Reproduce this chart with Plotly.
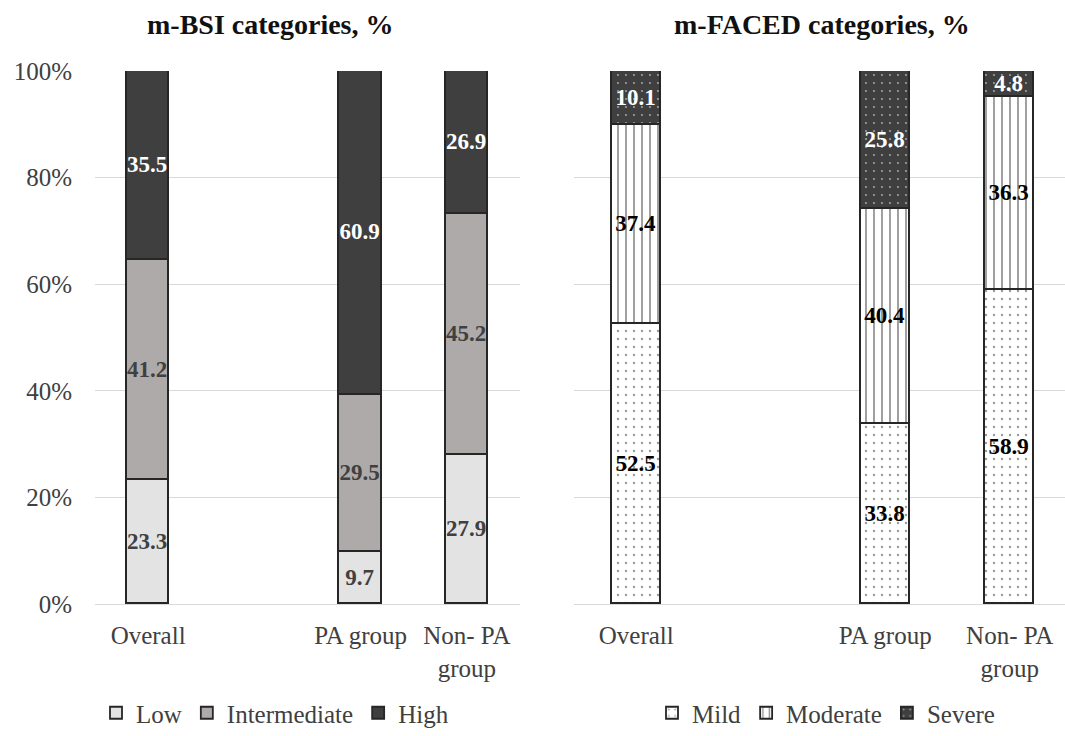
import plotly.graph_objects as go

# ---------------- data ----------------
groups = ["Overall", "PA group", "Non- PA<br>group"]
group_slots = [0, 2, 3]          # category slot (slot 1 is an empty gap)

bsi_low = [23.3, 9.7, 27.9]
bsi_intermediate = [41.2, 29.5, 45.2]
bsi_high = [35.5, 60.9, 26.9]

faced_mild = [52.5, 33.8, 58.9]
faced_moderate = [37.4, 40.4, 36.3]
faced_severe = [10.1, 25.8, 4.8]

y_tick_vals = [0, 20, 40, 60, 80, 100]
y_tick_labels = ["0%", "20%", "40%", "60%", "80%", "100%"]

titles = ["m-BSI categories, %", "m-FACED categories, %"]

# ---------------- styling ----------------
W, H = 1065, 736
FONT = "Liberation Serif, Times New Roman, serif"
EDGE = dict(color="#262626", width=1.8)
LABEL_SIZE = 23
TEXT_SIZE = 25


def bar(x, y, name, xa, ya, leg, color, txtcolor, width, pattern=None):
    marker = dict(color=color, line=EDGE)
    if pattern is not None:
        marker["pattern"] = pattern
    return go.Bar(
        x=x, y=y, name=name, xaxis=xa, yaxis=ya, legend=leg,
        width=width, marker=marker,
        text=y, texttemplate="%{text:.1f}",
        textposition="inside", insidetextanchor="middle",
        textangle=0, constraintext="none",
        textfont=dict(family=FONT, size=LABEL_SIZE, color=txtcolor, weight="bold"),
        hoverinfo="skip",
    )


fig = go.Figure()

# left chart: m-BSI
fig.add_trace(bar(group_slots, bsi_low, "Low", "x", "y", "legend", "#e3e3e3", "#404040", 0.40))
fig.add_trace(bar(group_slots, bsi_intermediate, "Intermediate", "x", "y", "legend", "#aeaaaa", "#404040", 0.40))
fig.add_trace(bar(group_slots, bsi_high, "High", "x", "y", "legend", "#3f3f3f", "#ffffff", 0.40))

# right chart: m-FACED
fig.add_trace(bar(group_slots, faced_mild, "Mild", "x2", "y2", "legend2", "#ffffff", "#000000", 0.39,
                  pattern=dict(shape=".", bgcolor="#ffffff", fgcolor="#303030", size=8, solidity=0.07)))
fig.add_trace(bar(group_slots, faced_moderate, "Moderate", "x2", "y2", "legend2", "#ffffff", "#000000", 0.39,
                  pattern=dict(shape="|", bgcolor="#ffffff", fgcolor="#111111", size=8, solidity=0.2)))
fig.add_trace(bar(group_slots, faced_severe, "Severe", "x2", "y2", "legend2", "#3f3f3f", "#ffffff", 0.39,
                  pattern=dict(shape=".", bgcolor="#3f3f3f", fgcolor="#ffffff", size=8, solidity=0.06)))

TOP, BOTTOM = 71, 607
plot_h = BOTTOM - TOP


def py(pix):
    return (BOTTOM - pix) / plot_h


tick_font = dict(family=FONT, size=TEXT_SIZE, color="#404040")

xcommon = dict(showgrid=False, zeroline=False, showline=True, linecolor="#d9d9d9", linewidth=1,
               ticks="", tickmode="array", tickvals=group_slots, ticktext=groups,
               tickfont=tick_font, ticklabelstandoff=9, automargin=False, fixedrange=True)
ycommon = dict(range=[0, 100], tickmode="array", tickvals=y_tick_vals, ticktext=y_tick_labels,
               showgrid=True, gridcolor="#d9d9d9", gridwidth=1, zeroline=False, showline=False,
               ticks="", tickfont=tick_font, automargin=False, fixedrange=True)

legend_common = dict(orientation="h", xanchor="center", y=py(717), yanchor="middle",
                     font=dict(family=FONT, size=TEXT_SIZE, color="#404040"), traceorder="normal",
                     itemclick=False, itemdoubleclick=False, bgcolor="rgba(0,0,0,0)")

fig.update_layout(
    width=W, height=H,
    margin=dict(l=0, r=0, t=TOP, b=H - BOTTOM),
    paper_bgcolor="#ffffff", plot_bgcolor="#ffffff",
    barmode="stack", bargap=0,
    font=dict(family=FONT, color="#404040"),
    xaxis=dict(domain=[95 / W, 520 / W], range=[-0.5, 3.5], anchor="y", **xcommon),
    xaxis2=dict(domain=[574 / W, 1.0], range=[-0.5, 3.444], anchor="y2", **xcommon),
    yaxis=dict(anchor="x", ticklabelstandoff=22, **ycommon),
    yaxis2=dict(anchor="x2", showticklabels=False, **ycommon),
    legend=dict(x=275 / W, **legend_common),
    legend2=dict(x=826 / W, **legend_common),
    annotations=[
        dict(text=titles[0], x=270 / W, y=py(24), xref="paper", yref="paper",
             xanchor="center", yanchor="middle", showarrow=False,
             font=dict(family=FONT, size=28, color="#111111", weight="bold")),
        dict(text=titles[1], x=822 / W, y=py(24), xref="paper", yref="paper",
             xanchor="center", yanchor="middle", showarrow=False,
             font=dict(family=FONT, size=28, color="#111111", weight="bold")),
    ],
    showlegend=True,
)

fig.write_html(
    "out.html",
    config={"displayModeBar": False},
    post_script="document.body.style.margin='0';document.body.style.overflow='hidden';",
)
